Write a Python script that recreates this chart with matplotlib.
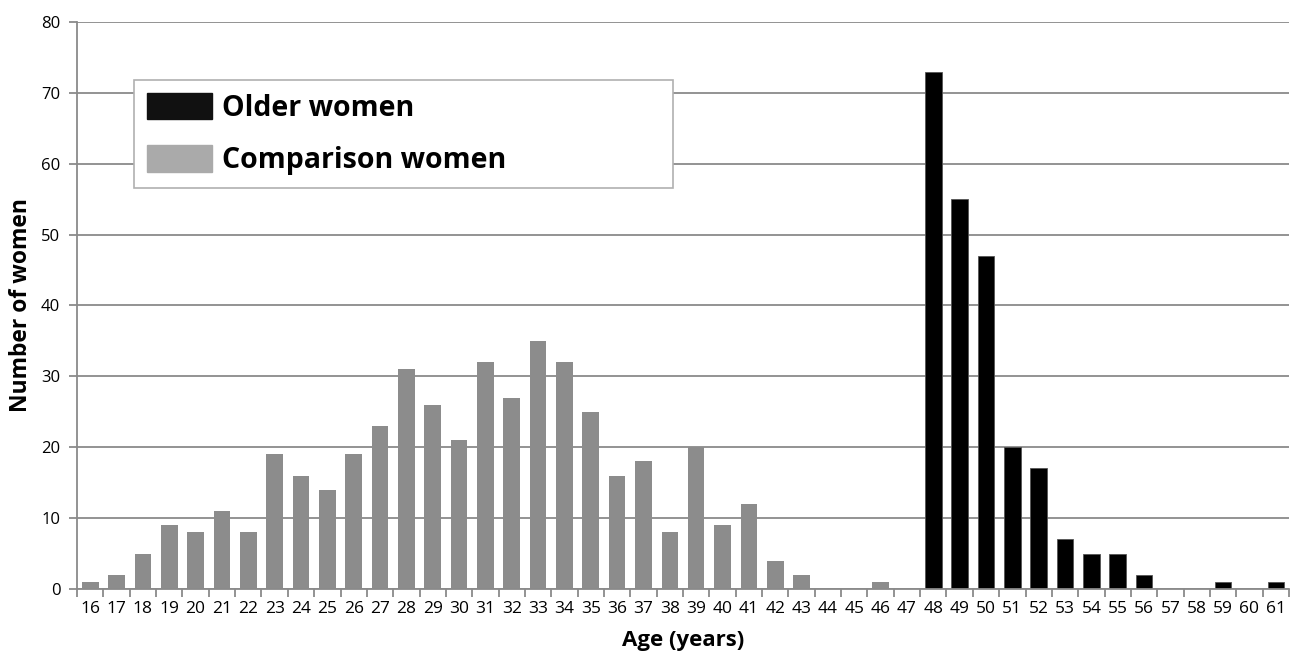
import matplotlib
matplotlib.use("Agg")
import matplotlib.pyplot as plt
from matplotlib.patches import Patch

plt.rcParams["font.family"] = ["Open Sans", "DejaVu Sans"]

# === Data ===
ages = list(range(16, 62))
comparison = [1, 2, 5, 9, 8, 11, 8, 19, 16, 14, 19, 23, 31, 26, 21, 32, 27, 35, 32, 25,
              16, 18, 8, 20, 9, 12, 4, 2, 0, 0, 1, 0,
              0, 0, 0, 0, 0, 0, 0, 0, 0, 0, 0, 0, 0, 0]
older = [0] * 32 + [73, 55, 47, 20, 17, 7, 5, 5, 2, 0, 0, 1, 0, 1]

GRAY = "#8c8c8c"
AXIS_GRAY = "#8a8a8a"

fig = plt.figure(figsize=(12.99, 6.58), dpi=100)
ax = fig.add_axes([0.0593, 0.1049, 0.9330, 0.8617])

x = list(range(len(ages)))
ax.bar(x, comparison, width=0.63, color=GRAY, zorder=3)
ax.bar(x, older, width=0.63, color="black", edgecolor="#555555", linewidth=0.6, zorder=3)

ax.set_xlim(-0.5, len(ages) - 0.5)
ax.set_ylim(0, 80)
ax.set_yticks(range(0, 81, 10))
ax.yaxis.grid(True, color=AXIS_GRAY, linewidth=1.3, zorder=0)

# category labels at centres, tick marks on the boundaries
ax.set_xticks(x)
ax.set_xticklabels([str(a) for a in ages], fontsize=12.5)
ax.tick_params(axis="x", length=0, pad=9)
ax.set_xticks([i - 0.5 for i in range(len(ages) + 1)], minor=True)
ax.tick_params(axis="x", which="minor", length=6, width=1.3, color=AXIS_GRAY, direction="out")
ax.tick_params(axis="y", length=6, width=1.3, color=AXIS_GRAY, labelsize=12, pad=6)

for side in ("top", "right"):
    ax.spines[side].set_visible(False)
for side in ("left", "bottom"):
    ax.spines[side].set_color(AXIS_GRAY)
    ax.spines[side].set_linewidth(1.3)
    ax.spines[side].set_zorder(4)

ax.set_xlabel("Age (years)", fontsize=16, fontweight="bold", labelpad=9)
ax.set_ylabel("Number of women", fontsize=16.5, fontweight="bold", labelpad=6)

handles = [Patch(facecolor="#111111", edgecolor="#111111"),
           Patch(facecolor="#aaaaaa", edgecolor="#aaaaaa")]
leg = ax.legend(handles, ["Older women", "Comparison women"],
                loc="upper left", bbox_to_anchor=(0.047, 0.79, 0.445, 0.1077),
                mode="expand", borderaxespad=0,
                prop={"size": 20.5, "weight": "bold"},
                fancybox=False, framealpha=1, edgecolor="#b0b0b0",
                handlelength=2.3, handleheight=1.05, labelspacing=0.8,
                borderpad=0.45, handletextpad=0.35)
leg.get_frame().set_linewidth(1.2)
leg.set_zorder(5)

fig.savefig("out.png", dpi=100)
